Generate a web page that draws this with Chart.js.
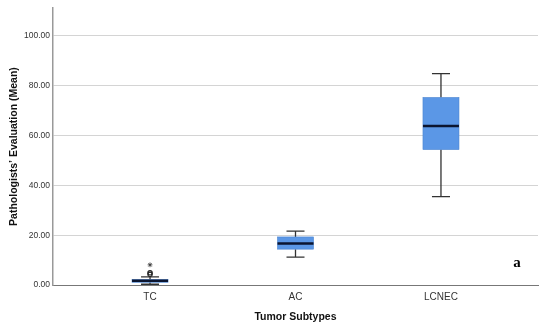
<!DOCTYPE html>
<html>
<head>
<meta charset="utf-8">
<script src="https://cdn.jsdelivr.net/npm/chart.js@4"></script>
<style>
  html, body { margin: 0; padding: 0; background: #fff; }
  #wrap { width: 550px; height: 329px; }
</style>
</head>
<body>
<div id="wrap"><canvas id="boxChart"></canvas></div>
<script>
// datos
const categorias = ['TC', 'AC', 'LCNEC'];
const minimos  = [0.3, 11.2, 35.5];
const q1s      = [1.1, 14.4, 54.4];
const medianas = [1.7, 16.7, 63.9];
const q3s      = [2.2, 19.3, 75.3];
const maximos  = [3.3, 21.6, 84.9];
const atipicosCirculo = [{ x: 0, y: 4.3 }, { x: 0, y: 4.9 }];
const atipicosExtremos = [{ x: 0, y: 8.1 }];
const yTicks = [0, 20, 40, 60, 80, 100];

// plugin para dibujar cajas y bigotes con las escalas de Chart.js
const cajasPlugin = {
    id: 'cajas',
    beforeDatasetsDraw(chart) {
        const c = chart.ctx;
        const xs = chart.scales.x, ys = chart.scales.y;
        c.save();
        categorias.forEach((cat, i) => {
            const cx = xs.getPixelForValue(i);
            const half = 18, cap = 9;
            const yMin = ys.getPixelForValue(minimos[i]);
            const yQ1 = ys.getPixelForValue(q1s[i]);
            const yMed = ys.getPixelForValue(medianas[i]);
            const yQ3 = ys.getPixelForValue(q3s[i]);
            const yMax = ys.getPixelForValue(maximos[i]);
            // bigotes
            c.strokeStyle = '#333';
            c.lineWidth = 1.3;
            c.beginPath();
            c.moveTo(cx, yMax); c.lineTo(cx, yQ3);
            c.moveTo(cx, yQ1); c.lineTo(cx, yMin);
            c.moveTo(cx - cap, yMax); c.lineTo(cx + cap, yMax);
            c.moveTo(cx - cap, yMin); c.lineTo(cx + cap, yMin);
            c.stroke();
            // caja
            c.fillStyle = '#5b97e6';
            c.fillRect(cx - half, yQ3, half * 2, yQ1 - yQ3);
            c.strokeStyle = '#4a84d0';
            c.lineWidth = 0.6;
            c.strokeRect(cx - half, yQ3, half * 2, yQ1 - yQ3);
            // mediana
            c.strokeStyle = '#0b1530';
            c.lineWidth = 2.5;
            c.beginPath();
            c.moveTo(cx - half, yMed); c.lineTo(cx + half, yMed);
            c.stroke();
        });
        c.restore();
    },
    afterDraw(chart) {
        const c = chart.ctx;
        c.save();
        c.fillStyle = '#000';
        c.font = 'bold 15px "Liberation Serif", "DejaVu Serif", serif';
        c.textAlign = 'center';
        c.textBaseline = 'middle';
        c.fillText('a', 517, 263);
        c.restore();
    }
};

const ctx = document.getElementById('boxChart');
new Chart(ctx, {
    type: 'scatter',
    data: {
        datasets: [{
            label: 'Atipicos',
            data: atipicosCirculo,
            pointStyle: 'circle',
            pointRadius: 2.2,
            borderColor: '#222',
            borderWidth: 1.1,
            backgroundColor: 'rgba(255,255,255,0)'
        }, {
            label: 'Extremos',
            data: atipicosExtremos,
            pointStyle: 'star',
            pointRadius: 2.4,
            borderColor: '#333',
            borderWidth: 0.8
        }]
    },
    options: {
        responsive: true,
        maintainAspectRatio: false,
        animation: false,
        layout: { padding: { top: 7, right: 12, left: 0, bottom: 0 } },
        plugins: {
            legend: { display: false },
            tooltip: { enabled: false }
        },
        scales: {
            x: {
                type: 'linear',
                min: -0.667,
                max: 2.667,
                afterBuildTicks: scale => { scale.ticks = categorias.map((c, i) => ({ value: i })); },
                afterFit: scale => { scale.height = 44; },
                ticks: {
                    autoSkip: false,
                    maxRotation: 0,
                    padding: 6,
                    color: '#333',
                    font: { family: 'Arial, "Liberation Sans", sans-serif', size: 10 },
                    callback: v => categorias[v]
                },
                grid: { display: false, drawTicks: false },
                border: { color: '#777', width: 1 },
                title: {
                    display: true,
                    text: 'Tumor Subtypes',
                    color: '#111',
                    font: { family: 'Arial, "Liberation Sans", sans-serif', size: 10.5, weight: 'bold' },
                    padding: { top: 4, bottom: 6 }
                }
            },
            y: {
                min: 0,
                max: 111.2,
                afterBuildTicks: scale => { scale.ticks = yTicks.map(v => ({ value: v })); },
                afterFit: scale => { scale.width = 53; },
                ticks: {
                    padding: 3,
                    color: '#333',
                    font: { family: 'Arial, "Liberation Sans", sans-serif', size: 8.5 },
                    callback: v => v.toFixed(2)
                },
                grid: { color: '#d4d4d4', lineWidth: 1, drawTicks: false },
                border: { color: '#999', width: 1.5 },
                title: {
                    display: true,
                    text: 'Pathologists\u2019 Evaluation (Mean)',
                    color: '#111',
                    font: { family: 'Arial, "Liberation Sans", sans-serif', size: 10.5, weight: 'bold' },
                    padding: { top: 8, bottom: 2 }
                }
            }
        }
    },
    plugins: [cajasPlugin]
});
</script>
</body>
</html>
